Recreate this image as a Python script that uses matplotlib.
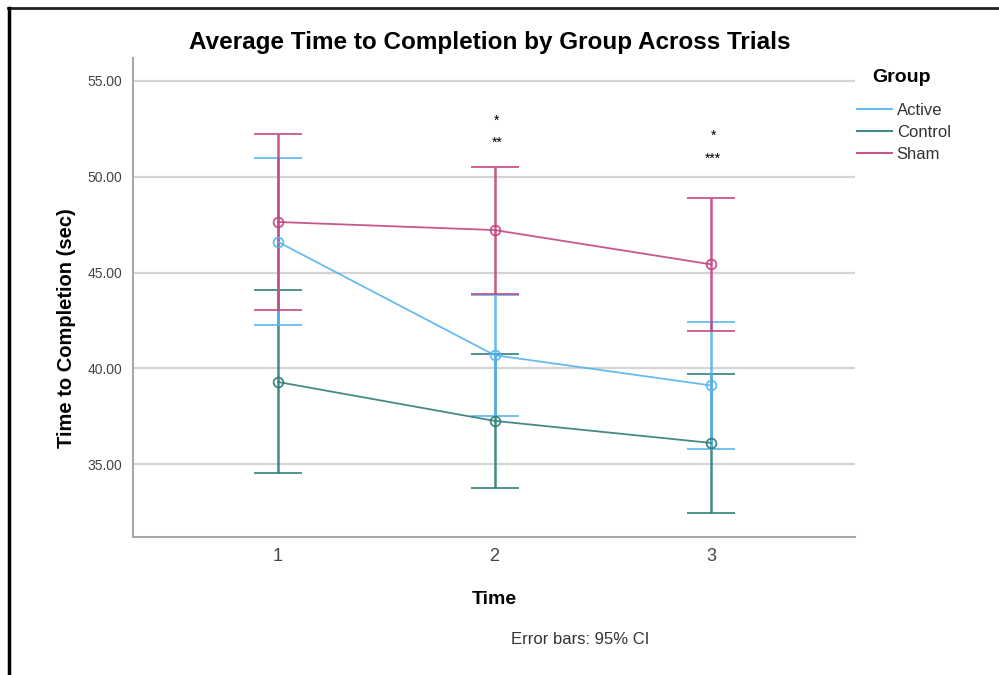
import matplotlib
matplotlib.use("Agg")
import matplotlib.pyplot as plt
from matplotlib.lines import Line2D

plt.rcParams['font.family'] = ['Liberation Sans', 'DejaVu Sans']

times = [1, 2, 3]
time_labels = ["1", "2", "3"]
groups = ["Active", "Control", "Sham"]
active_mean = [46.60, 40.69, 39.11]
active_low = [42.24, 37.54, 35.77]
active_high = [51.00, 43.85, 42.42]
control_mean = [39.29, 37.26, 36.11]
control_low = [34.52, 33.78, 32.44]
control_high = [44.10, 40.74, 39.73]
sham_mean = [47.64, 47.22, 45.43]
sham_low = [43.07, 43.90, 41.96]
sham_high = [52.22, 50.53, 48.87]
colors = {"Active": "#55b4f0", "Control": "#2f7d78", "Sham": "#c2467e"}

star_time = [2, 2, 3, 3]
star_value = [52.93, 51.80, 52.13, 50.96]
star_text = ["*", "**", "*", "***"]

W, H = 999, 675
fig = plt.figure(figsize=(W / 100, H / 100), dpi=100)
ax = fig.add_axes([133 / W, 1 - 537 / H, (855 - 133) / W, (537 - 58) / H])

data = {
    "Active": (active_mean, active_low, active_high),
    "Control": (control_mean, control_low, control_high),
    "Sham": (sham_mean, sham_low, sham_high),
}
for g in ["Control", "Active", "Sham"]:
    m, lo, hi = data[g]
    yerr = [[a - b for a, b in zip(m, lo)], [c - a for a, c in zip(m, hi)]]
    ax.errorbar(times, m, yerr=yerr, color=colors[g], lw=1.3, elinewidth=1.8,
                capsize=17, capthick=1.8, marker='o', markersize=7,
                markerfacecolor='none', markeredgewidth=1.3, alpha=0.9, zorder=3)

for t, v, s in zip(star_time, star_value, star_text):
    ax.text(t + 0.01, v, s, ha='center', va='center', fontsize=10, color='black')

ax.set_xlim(0.33, 3.665)
ax.set_ylim(31.2, 56.2)
ax.set_xticks(times)
ax.set_xticklabels(time_labels, fontsize=13, color='#444444')
ax.set_yticks([35, 40, 45, 50, 55])
ax.set_yticklabels(["35.00", "40.00", "45.00", "50.00", "55.00"], fontsize=10, color='#444444')
ax.tick_params(axis='both', length=0)
ax.tick_params(axis='x', pad=8)
ax.tick_params(axis='y', pad=8)
ax.grid(axis='y', color='#d4d4d4', lw=1.6, zorder=0)
ax.set_axisbelow(True)
for sp in ['top', 'right']:
    ax.spines[sp].set_visible(False)
for sp in ['left', 'bottom']:
    ax.spines[sp].set_color('#a8a8a8')
    ax.spines[sp].set_linewidth(1.5)

fig.text(490 / W, 1 - 42 / H, "Average Time to Completion by Group Across Trials",
         ha='center', va='center', fontsize=17.5, fontweight='bold')
fig.text(494 / W, 1 - 600 / H, "Time", ha='center', va='center', fontsize=14, fontweight='bold')
fig.text(66 / W, 1 - 328 / H, "Time to Completion (sec)", ha='center', va='center',
         rotation=90, fontsize=14.5, fontweight='bold')
fig.text(580 / W, 1 - 640 / H, "Error bars: 95% CI", ha='center', va='center',
         fontsize=12, color='#333333')

fig.text(872 / W, 1 - 77 / H, "Group", ha='left', va='center', fontsize=14, fontweight='bold')
handles = [Line2D([], [], color=colors[g], lw=1.5, alpha=0.9) for g in groups]
leg = fig.legend(handles, groups, loc='upper left', bbox_to_anchor=(850 / W, 1 - 96 / H),
                 frameon=False, fontsize=12, handlelength=2.1, handletextpad=0.3,
                 labelspacing=0.42, borderaxespad=0)
for t in leg.get_texts():
    t.set_color('#333333')

fig.add_artist(Line2D([8 / W, 1], [1 - 8 / H, 1 - 8 / H], color='#222222', lw=2))
fig.add_artist(Line2D([9 / W, 9 / W], [0, 1 - 8 / H], color='black', lw=2.5))

fig.savefig("out.png", dpi=100)
